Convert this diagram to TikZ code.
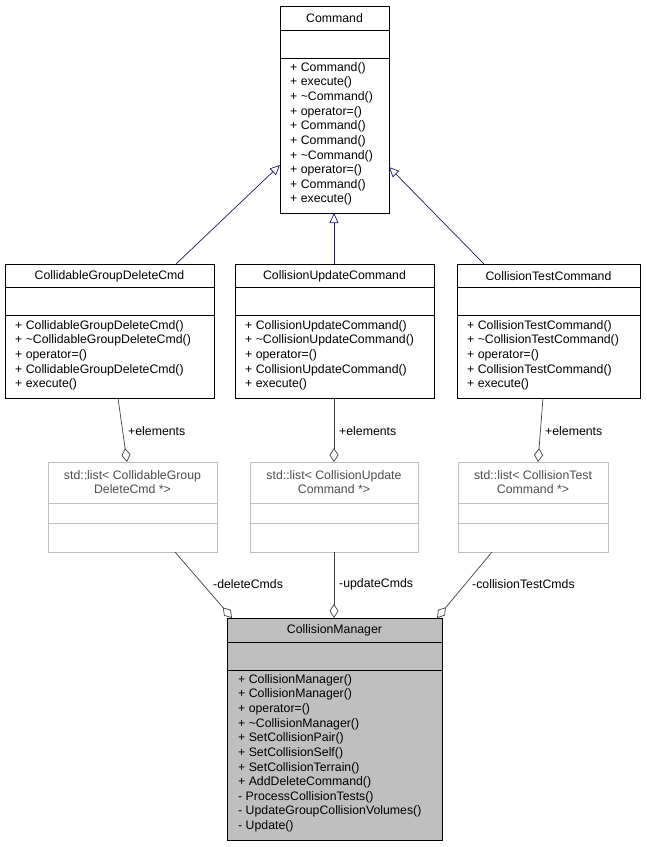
\documentclass[tikz,border=0pt]{standalone}
\usepackage{fontspec}
\setmainfont{Liberation Sans}
\usetikzlibrary{arrows.meta}
\begin{document}
\begin{tikzpicture}[x=1pt,y=-1pt,
  f/.style={font=\fontsize{12.3}{14.65}\selectfont},
  box/.style={draw=black,fill=white,line width=0.8pt},
  gbox/.style={draw=black!25,fill=white,line width=0.8pt},
  mbox/.style={draw=black,fill=black!25,line width=0.8pt},
  txt/.style={f,inner sep=0pt,align=left,anchor=north west},
  ttl/.style={f,inner sep=0pt,align=center},
  inh/.style={draw={rgb,255:red,25;green,25;blue,112},-{Triangle[open,length=10pt,width=9pt]},line width=0.7pt},
  agg/.style={draw=black!75,-{Diamond[open,length=14pt,width=9pt]},line width=0.7pt},
  lbl/.style={f,inner sep=1pt}]
\useasboundingbox (0,0) rectangle (646,847);
% Command
\path[box] (280,6) rectangle (389,213);
\node (cmd) at (334.5,109.5) [minimum width=109pt,minimum height=207pt,inner sep=0]{};
\draw (280,30)--(389,30) (280,58)--(389,58);
\node[ttl] (cmdt) at (334.5,18) {Command};
\node[txt] (cmdm) at (290,62) {+ Command()\\+ execute()\\+ \textasciitilde Command()\\+ operator=()\\+ Command()\\+ Command()\\+ \textasciitilde Command()\\+ operator=()\\+ Command()\\+ execute()};
% middle row
\foreach \n/\a/\b/\t/\m in {cg/5/214/CollidableGroupDeleteCmd/CollidableGroupDeleteCmd,cu/235/434/CollisionUpdateCommand/CollisionUpdateCommand,ct/457/640/CollisionTestCommand/CollisionTestCommand}{
  \path[box] (\a,264) rectangle (\b,398);
  \node[inner sep=0,minimum width={\b-\a},minimum height=134pt] (\n) at ({(\a+\b)/2},331) {};
  \draw (\a,287)--(\b,287) (\a,315)--(\b,315);
  \node[ttl] (\n t) at ({(\a+\b)/2},276) {\t};
  \node[txt] (\n m) at ({\a+10},320) {+ \m()\\+ \textasciitilde\m()\\+ operator=()\\+ \m()\\+ execute()};
}
% list boxes
\foreach \n/\a/\b/\t in {lg/48/217/{std::list< CollidableGroup\\DeleteCmd *>},lu/250/418/{std::list< CollisionUpdate\\Command *>},lt/458/608/{std::list< CollisionTest\\Command *>}}{
  \path[gbox] (\a,462) rectangle (\b,552);
  \node[inner sep=0,minimum width={\b-\a},minimum height=90pt] (\n) at ({(\a+\b)/2},507) {};
  \draw[black!25,line width=0.8pt] (\a,503)--(\b,503) (\a,523)--(\b,523);
  \node[ttl,text=black!70] (\n t) at ({(\a+\b)/2},482) {\t};
}
% manager
\path[mbox] (227,618) rectangle (442,840);
\node[inner sep=0,minimum width=215pt,minimum height=222pt] (cm) at (334.5,729) {};
\draw (227,642)--(442,642) (227,670)--(442,670);
\node[ttl] (cmt) at (334.5,630) {CollisionManager};
\node[txt] (cmm) at (238,674) {+ CollisionManager()\\+ CollisionManager()\\+ operator=()\\+ \textasciitilde CollisionManager()\\+ SetCollisionPair()\\+ SetCollisionSelf()\\+ SetCollisionTerrain()\\+ AddDeleteCommand()\\- ProcessCollisionTests()\\- UpdateGroupCollisionVolumes()\\- Update()};
% inheritance
\coordinate (a1) at (176,264); \coordinate (b1) at (280,165);
\coordinate (a2) at (334,264); \coordinate (b2) at (334,213);
\coordinate (a3) at (484,264); \coordinate (b3) at (389,167);
\draw[inh] (a1)--(b1); \draw[inh] (a2)--(b2); \draw[inh] (a3)--(b3);
% aggregation
\coordinate (c1) at (118,398); \coordinate (d1) at (127,462);
\coordinate (c2) at (334,398); \coordinate (d2) at (334,462);
\coordinate (c3) at (543,398); \coordinate (d3) at (538,462);
\draw[agg] (c1)--(d1); \draw[agg] (c2)--(d2); \draw[agg] (c3)--(d3);
\node[lbl,anchor=west] (e1) at (127,431) {+elements};
\node[lbl,anchor=west] (e2) at (338,431) {+elements};
\node[lbl,anchor=west] (e3) at (544,431) {+elements};
\coordinate (g1) at (175,552); \coordinate (h1) at (232,618);
\coordinate (g2) at (334,552); \coordinate (h2) at (334,618);
\coordinate (g3) at (492,552); \coordinate (h3) at (437,618);
\draw[agg] (g1)--(h1); \draw[agg] (g2)--(h2); \draw[agg] (g3)--(h3);
\node[lbl,anchor=west] (k1) at (212,584) {-deleteCmds};
\node[lbl,anchor=west] (k2) at (338,584) {-updateCmds};
\node[lbl,anchor=west] (k3) at (471,584) {-collisionTestCmds};
\end{tikzpicture}
\end{document}
